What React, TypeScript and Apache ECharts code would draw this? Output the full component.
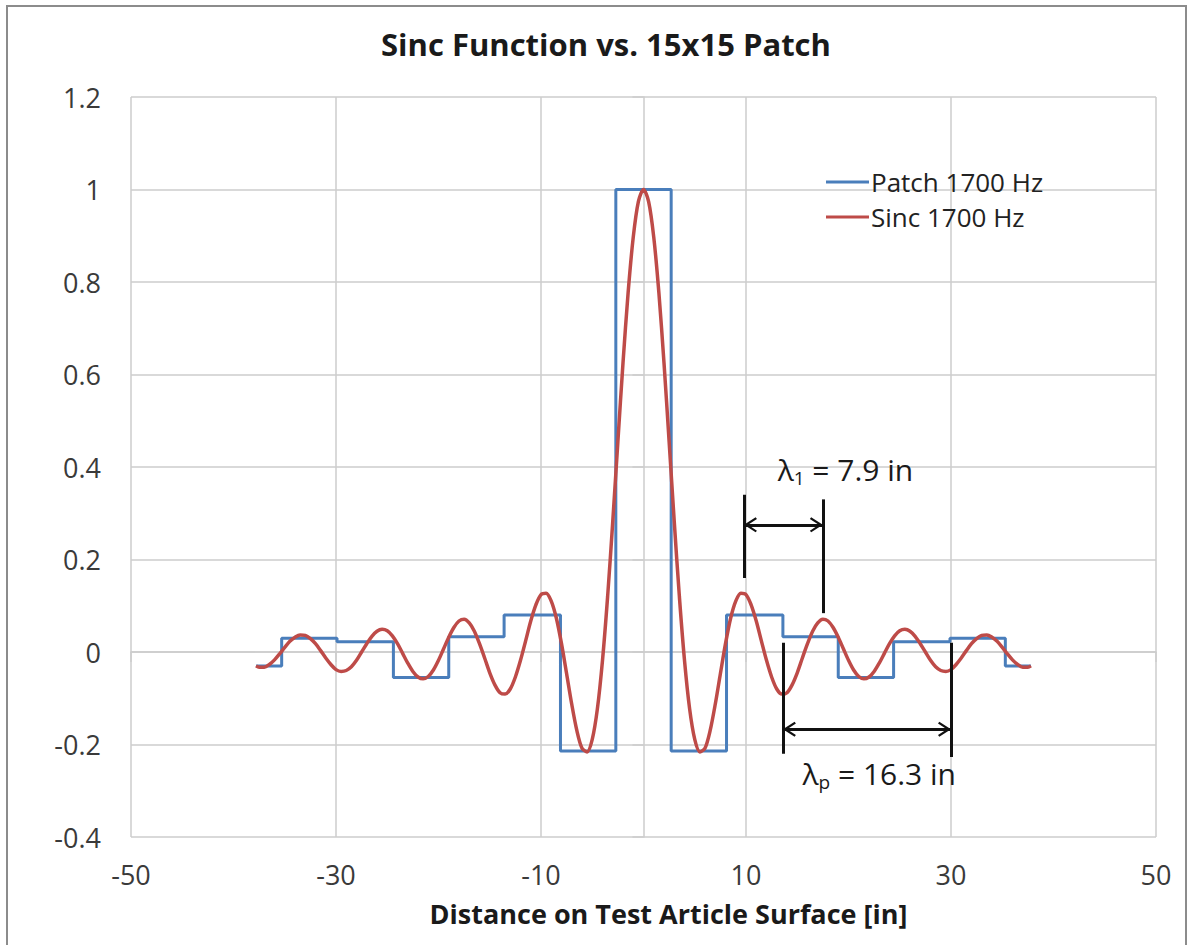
import React, { useEffect, useRef } from 'react';
import * as echarts from 'echarts';

const TITLE = 'Sinc Function vs. 15x15 Patch';
const X_NAME = 'Distance on Test Article Surface [in]';
const PATCH_NAME = 'Patch 1700 Hz';
const SINC_NAME = 'Sinc 1700 Hz';

const X_MIN = -50;
const X_MAX = 50;
const X_STEP = 20;
const Y_MIN = -0.4;
const Y_MAX = 1.2;
const Y_STEP = 0.2;

// Patch: step edges (in) and the level of each step (between consecutive edges)
const patchEdges = [-37.8, -35.3, -29.9, -24.4, -19.0, -13.6, -8.1, -2.7, 2.7, 8.1, 13.6, 19.0, 24.4, 29.9, 35.3, 37.8];
const patchLevels = [-0.03, 0.03, 0.022, -0.055, 0.033, 0.08, -0.214, 1.0, -0.214, 0.08, 0.033, -0.055, 0.022, 0.03, -0.03];

// Sinc curve
const sincX = [
  -37.8, -37.5, -37, -36.5, -36, -35.5, -35, -34.5, -34, -33.5,
  -33, -32.5, -32, -31.5, -31, -30.5, -30, -29.5, -29, -28.5,
  -28, -27.5, -27, -26.5, -26, -25.5, -25, -24.5, -24, -23.5,
  -23, -22.5, -22, -21.5, -21, -20.5, -20, -19.5, -19, -18.5,
  -18, -17.5, -17, -16.5, -16, -15.5, -15, -14.5, -14, -13.5,
  -13, -12.5, -12, -11.5, -11, -10.5, -10, -9.5, -9, -8.5,
  -8, -7.5, -7, -6.5, -6, -5.5, -5, -4.5, -4, -3.5,
  -3, -2.5, -2, -1.5, -1, -0.5, 0,
  0.5, 1, 1.5, 2, 2.5, 3,
  3.5, 4, 4.5, 5, 5.5, 6, 6.5, 7, 7.5, 8,
  8.5, 9, 9.5, 10, 10.5, 11, 11.5, 12, 12.5, 13,
  13.5, 14, 14.5, 15, 15.5, 16, 16.5, 17, 17.5, 18,
  18.5, 19, 19.5, 20, 20.5, 21, 21.5, 22, 22.5, 23,
  23.5, 24, 24.5, 25, 25.5, 26, 26.5, 27, 27.5, 28,
  28.5, 29, 29.5, 30, 30.5, 31, 31.5, 32, 32.5, 33,
  33.5, 34, 34.5, 35, 35.5, 36, 36.5, 37, 37.5, 37.8,
];
const sincY = [
  -0.030, -0.033, -0.033, -0.027, -0.017, -0.004, 0.010, 0.023, 0.032, 0.037,
  0.036, 0.029, 0.018, 0.003, -0.013, -0.027, -0.038, -0.042, -0.040, -0.032,
  -0.018, 0.000, 0.018, 0.034, 0.045, 0.049, 0.046, 0.035, 0.018, -0.003,
  -0.024, -0.042, -0.054, -0.058, -0.053, -0.039, -0.018, 0.007, 0.032, 0.053,
  0.067, 0.071, 0.063, 0.045, 0.018, -0.013, -0.045, -0.071, -0.088, -0.091,
  -0.080, -0.054, -0.018, 0.024, 0.067, 0.102, 0.124, 0.127, 0.110, 0.073,
  0.018, -0.047, -0.113, -0.170, -0.208, -0.216, -0.189, -0.123, -0.018, 0.120,
  0.282, 0.455, 0.625, 0.777, 0.897, 0.974, 1.000,
  0.974, 0.897, 0.777, 0.625, 0.455, 0.282,
  0.120, -0.018, -0.123, -0.189, -0.216, -0.208, -0.170, -0.113, -0.047, 0.018,
  0.073, 0.110, 0.127, 0.124, 0.102, 0.067, 0.024, -0.018, -0.054, -0.080,
  -0.091, -0.088, -0.071, -0.045, -0.013, 0.018, 0.045, 0.063, 0.071, 0.067,
  0.053, 0.032, 0.007, -0.018, -0.039, -0.053, -0.058, -0.054, -0.042, -0.024,
  -0.003, 0.018, 0.035, 0.046, 0.049, 0.045, 0.034, 0.018, 0.000, -0.018,
  -0.032, -0.040, -0.042, -0.038, -0.027, -0.013, 0.003, 0.018, 0.029, 0.036,
  0.037, 0.032, 0.023, 0.010, -0.004, -0.017, -0.027, -0.033, -0.033, -0.030,
];

// Annotations (data coordinates)
const L1_LABEL = { sub: '1', rest: ' = 7.9 in', at: [19.7, 0.395] };
const L1_LEFT = [[9.8, 0.34], [9.8, 0.16]];
const L1_RIGHT = [[17.5, 0.33], [17.5, 0.084]];
const L1_ARROW = [[9.8, 0.275], [17.5, 0.275]];
const LP_LABEL = { sub: 'p', rest: ' = 16.3 in', at: [23.0, -0.262] };
const LP_LEFT = [[13.6, 0.02], [13.6, -0.22]];
const LP_RIGHT = [[30.0, 0.02], [30.0, -0.227]];
const LP_ARROW = [[13.6, -0.167], [30.0, -0.167]];

const FONT = '"Open Sans", "Noto Sans", sans-serif';
const BLUE = '#4a7ebb';
const RED = '#be4b48';
const GRID_COLOR = '#cccccc';
const LABEL_COLOR = '#3a3a3a';

// open chevron arrow head, tip at the symbol centre
const ARROW_HEAD = 'path://M9.95,0 L10.05,0 L10,0.05 Z M10,10 L19,19 L17,20 L10,13.2 L3,20 L1,19 Z';

export default function App() {
  const ref = useRef<HTMLDivElement>(null);

  useEffect(() => {
    document.body.style.margin = '0';
    if (!ref.current) return;
    const chart = echarts.init(ref.current, undefined, { renderer: 'svg' });

    const patchData: number[][] = patchLevels.map((v, i) => [patchEdges[i], v]);
    patchData.push([patchEdges[patchEdges.length - 1], patchLevels[patchLevels.length - 1]]);
    const sincData = sincX.map((x, i) => [x, sincY[i]]);

    const seg = (pts: number[][]) => [{ coord: pts[0] }, { coord: pts[1] }];
    const arrow = (pts: number[][]) => [
      { coord: pts[0], symbol: ARROW_HEAD, symbolSize: [15, 26] },
      { coord: pts[1], symbol: ARROW_HEAD, symbolSize: [15, 26] },
    ];
    const richLabel = {
      a: { fontSize: 30, fontFamily: FONT, color: '#1a1a1a', lineHeight: 36 },
      b: { fontSize: 19, fontFamily: FONT, color: '#1a1a1a', lineHeight: 13, verticalAlign: 'bottom' },
    };

    chart.setOption({
      animation: false,
      backgroundColor: '#ffffff',
      title: {
        text: TITLE,
        left: 376,
        top: 23,
        textStyle: { fontFamily: FONT, fontWeight: 'bold', fontSize: 31, color: '#1a1a1a' },
      },
      legend: {
        data: [PATCH_NAME, SINC_NAME],
        orient: 'vertical',
        left: 821,
        top: 164,
        itemWidth: 43,
        itemHeight: 3,
        itemGap: 9,
        icon: 'rect',
        textStyle: { fontFamily: FONT, fontSize: 26, color: '#222222', padding: [0, 0, 0, -3] },
      },
      grid: { left: 131, right: 34, top: 97, bottom: 108, containLabel: false, outerBoundsMode: 'none' },
      xAxis: {
        type: 'value',
        min: X_MIN,
        max: X_MAX,
        interval: X_STEP,
        name: X_NAME,
        nameLocation: 'middle',
        nameGap: 63,
        nameTextStyle: { fontFamily: FONT, fontWeight: 'bold', fontSize: 27, color: '#1a1a1a', padding: [0, 0, 0, 50] },
        axisLine: { show: true, lineStyle: { color: GRID_COLOR, width: 1.5 } },
        axisTick: { show: true, length: 10, lineStyle: { color: GRID_COLOR, width: 1.5 } },
        axisLabel: { fontFamily: FONT, fontSize: 27, color: LABEL_COLOR, margin: 24 },
        splitLine: { show: true, lineStyle: { color: GRID_COLOR, width: 1.5 } },
      },
      yAxis: {
        type: 'value',
        min: Y_MIN,
        max: Y_MAX,
        interval: Y_STEP,
        axisLine: { show: true, lineStyle: { color: GRID_COLOR, width: 1.5 } },
        axisTick: { show: true, length: 11, lineStyle: { color: GRID_COLOR, width: 1.5 } },
        axisLabel: { fontFamily: FONT, fontSize: 27, color: LABEL_COLOR, margin: 30 },
        splitLine: { show: true, lineStyle: { color: GRID_COLOR, width: 1.5 } },
      },
      graphic: [
        {
          type: 'rect',
          shape: { x: 7, y: 6, width: 1179, height: 960 },
          style: { fill: 'none', stroke: '#8c8c8c', lineWidth: 2 },
          silent: true,
          z: 100,
        },
      ],
      series: [
        {
          name: PATCH_NAME,
          type: 'line',
          step: 'end',
          data: patchData,
          showSymbol: false,
          symbol: 'none',
          color: BLUE,
          lineStyle: { color: BLUE, width: 3 },
          z: 2,
        },
        {
          name: SINC_NAME,
          type: 'line',
          smooth: 0.3,
          data: sincData,
          showSymbol: false,
          symbol: 'none',
          color: RED,
          lineStyle: { color: RED, width: 3.5 },
          z: 3,
        },
        {
          name: 'annotations',
          type: 'line',
          data: [],
          silent: true,
          z: 4,
          markLine: {
            silent: true,
            symbol: ['none', 'none'],
            label: { show: false },
            lineStyle: { color: '#111111', width: 3, type: 'solid' },
            emphasis: { disabled: true },
            data: [
              seg(L1_LEFT), seg(L1_RIGHT), arrow(L1_ARROW),
              seg(LP_LEFT), seg(LP_RIGHT), arrow(LP_ARROW),
            ],
          },
          markPoint: {
            silent: true,
            symbol: 'rect',
            symbolSize: 1,
            itemStyle: { color: 'rgba(0,0,0,0)' },
            label: { show: true, position: 'inside', rich: richLabel },
            data: [
              { coord: L1_LABEL.at, label: { formatter: `{a|λ}{b|${L1_LABEL.sub}}{a|${L1_LABEL.rest}}` } },
              { coord: LP_LABEL.at, label: { formatter: `{a|λ}{b|${LP_LABEL.sub}}{a|${LP_LABEL.rest}}` } },
            ],
          },
        },
      ],
    });

    return () => chart.dispose();
  }, []);

  return <div ref={ref} style={{ width: 1190, height: 945 }} />;
}
